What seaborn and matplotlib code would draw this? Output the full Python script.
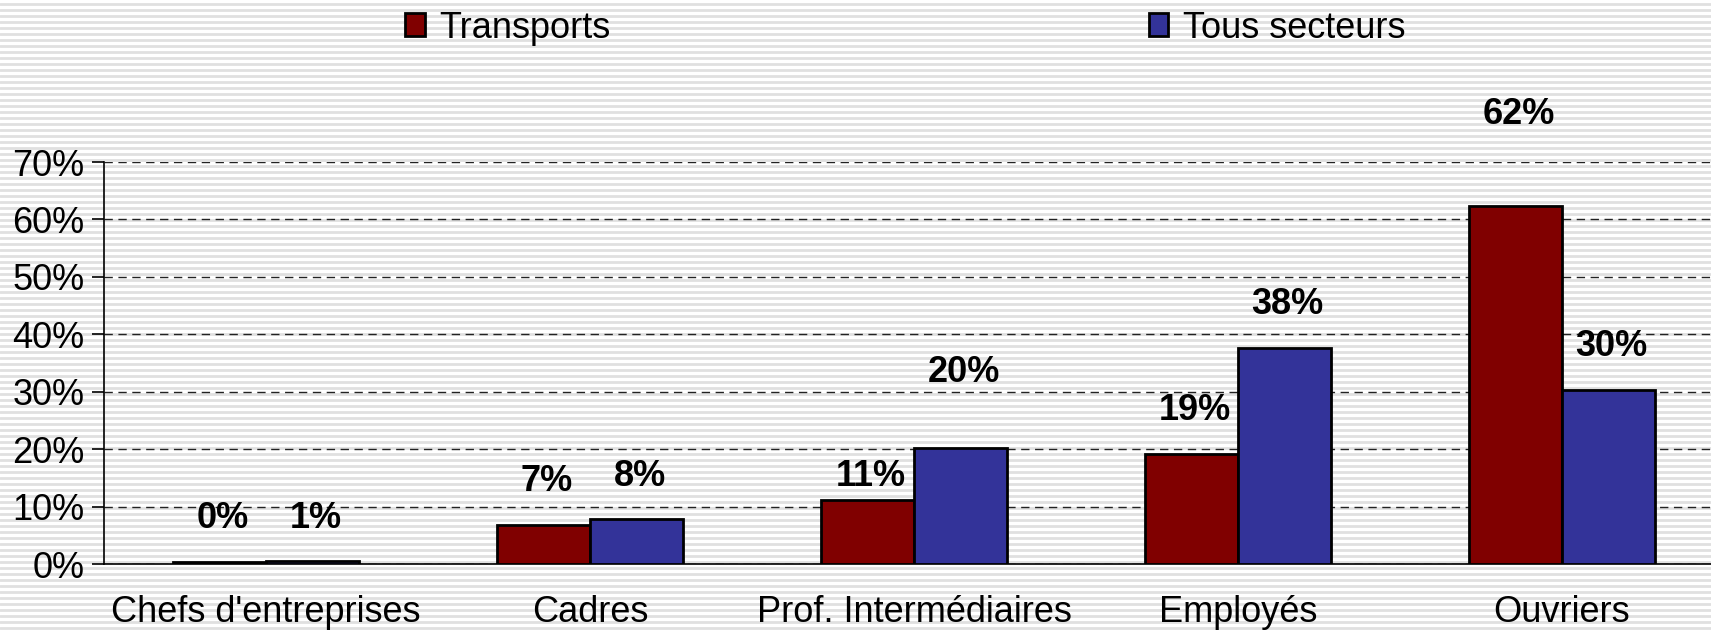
import matplotlib
matplotlib.use("Agg")
import matplotlib.pyplot as plt
import matplotlib.patches as mpatches
import seaborn as sns
import pandas as pd
import numpy as np

categories = ["Chefs d'entreprises", "Cadres", "Prof. Intermédiaires", "Employés", "Ouvriers"]
series_names = ["Transports", "Tous secteurs"]
transports = [0.4, 6.8, 11.2, 19.2, 62.4]
tous_secteurs = [0.6, 7.8, 20.2, 37.6, 30.3]
yticks = [0, 10, 20, 30, 40, 50, 60, 70]
ytick_labels = ["0%", "10%", "20%", "30%", "40%", "50%", "60%", "70%"]

colors = ["#800000", "#333399"]

df = pd.DataFrame({
    "cat": categories * 2,
    "val": transports + tous_secteurs,
    "series": [series_names[0]] * len(categories) + [series_names[1]] * len(categories),
})

sns.set_style("white")
plt.rcParams["font.family"] = ["Liberation Sans", "DejaVu Sans"]

W, H = 1711, 630
fig = plt.figure(figsize=(W / 100, H / 100), dpi=100)
fig.patch.set_facecolor("white")

# striped background
bg = fig.add_axes([0, 0, 1, 1], zorder=-10)
bg.set_xlim(0, W)
bg.set_ylim(0, H)
for yy in np.arange(2, H, 6):
    bg.axhline(yy, color="#e0e0e0", lw=2.0)
bg.axis("off")

ax = fig.add_axes([104 / W, 66 / H, 1620 / W, 402 / H])
ax.set_facecolor("none")
sns.barplot(data=df, x="cat", y="val", hue="series", palette=colors,
            width=0.575, edgecolor="black", linewidth=2, ax=ax, legend=False,
            saturation=1, zorder=3)

ax.set_ylim(0, 70)
ax.set_xlim(-0.5, len(categories) - 0.5)
ax.set_yticks(yticks)
ax.set_yticklabels(ytick_labels)
ax.tick_params(axis="y", labelsize=26, length=9, width=1.2, color="black", pad=5, direction="out", left=True)
ax.tick_params(axis="x", labelsize=26, length=0, pad=22)
ax.set_xlabel("")
ax.set_ylabel("")
for s in ["top", "right"]:
    ax.spines[s].set_visible(False)
ax.spines["left"].set_color("black")
ax.spines["left"].set_linewidth(1.2)
ax.spines["bottom"].set_color("black")
ax.spines["bottom"].set_linewidth(1.2)
ax.yaxis.grid(True, linestyle=(0, (6, 4)), color="#222222", lw=1.0)
ax.set_axisbelow(True)
for t in ax.get_yticklabels() + ax.get_xticklabels():
    t.set_color("black")

# data labels
default_offset = 7.5
extra = {(0, 2): -3.4, (1, 2): 5.7, (0, 4): 8.3, (0, 0): 0.0, (1, 0): -0.2}
for si, cont in enumerate(ax.containers):
    vals = [transports, tous_secteurs][si]
    for ci, bar in enumerate(cont):
        v = vals[ci]
        y = v + default_offset + extra.get((si, ci), 0.0)
        ax.text(bar.get_x() + bar.get_width() / 2 + 0.01, y, f"{round(v):.0f}%",
                ha="center", va="center", fontsize=26, fontweight="bold", color="black",
                clip_on=False)

handles = [mpatches.Patch(facecolor=c, edgecolor="black", linewidth=2) for c in colors]
leg = fig.legend(handles, series_names, loc="center left", bbox_to_anchor=(405 / W, 1 - 28 / H),
                 ncol=2, frameon=False, fontsize=26, handlelength=0.55, handleheight=0.6,
                 handletextpad=0.4, columnspacing=14.9, borderaxespad=0, borderpad=0)
for t in leg.get_texts():
    t.set_color("black")

fig.savefig("out.png", dpi=100)
